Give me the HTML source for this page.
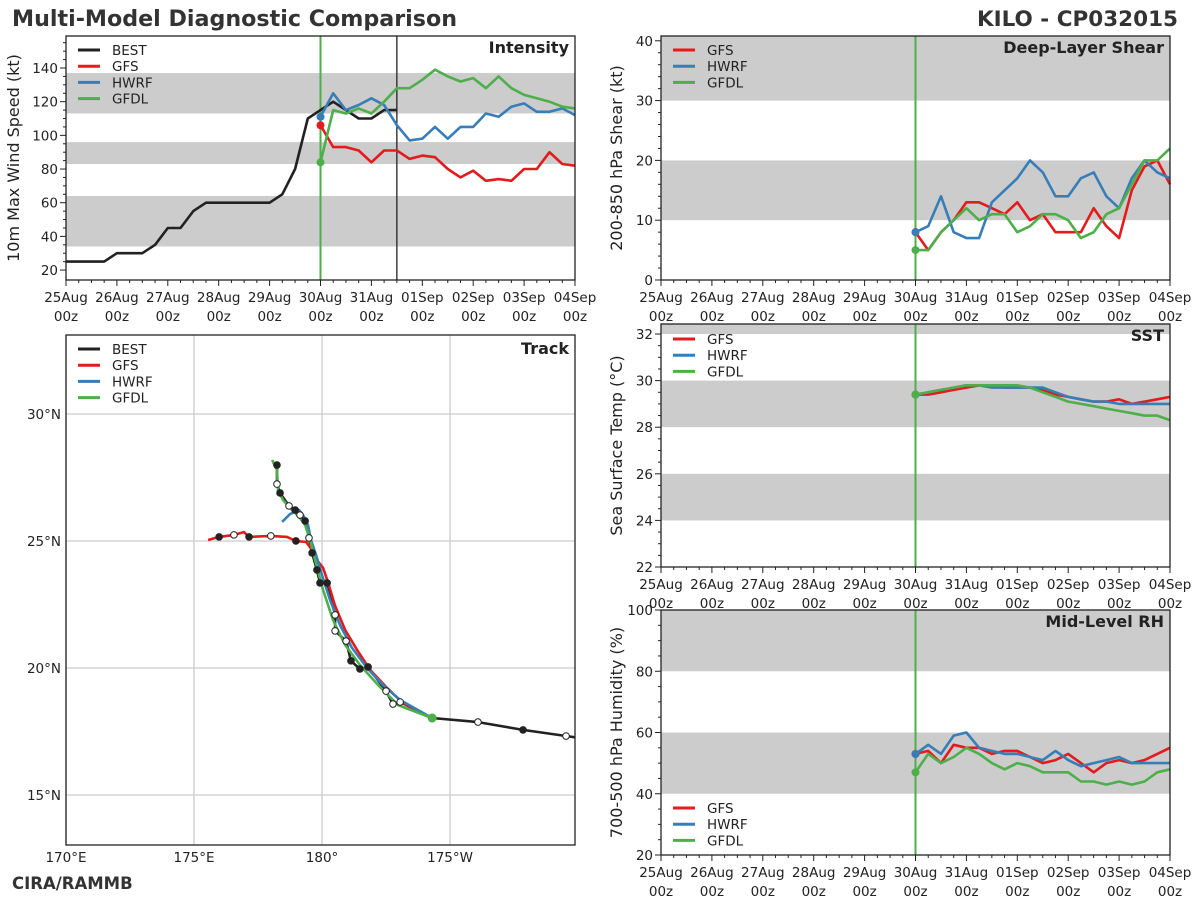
<!DOCTYPE html>
<html><head><meta charset="utf-8"><style>
body{margin:0;background:#fff;}
svg{display:block;font-family:"DejaVu Sans","Liberation Sans",sans-serif;}
</style></head><body>
<svg id="s" width="1200" height="900" viewBox="0 0 1200 900" xmlns="http://www.w3.org/2000/svg">
<text x="12" y="26" font-size="22.2" font-weight="bold" fill="#333">Multi-Model Diagnostic Comparison</text>
<text x="1178" y="26" font-size="21.5" font-weight="bold" fill="#333" text-anchor="end">KILO - CP032015</text>
<text x="12" y="889" font-size="16.5" font-weight="bold" fill="#333">CIRA/RAMMB</text>
</svg>
<script>
// ---------- data ----------
const dayLabels = ["25Aug","26Aug","27Aug","28Aug","29Aug","30Aug","31Aug","01Sep","02Sep","03Sep","04Sep"];
const bestInt = [25,25,25,25,30,30,30,35,45,45,55,60,60,60,60,60,60,65,80,110,115,120,115,110,110,115,115];
const gfsInt = [106,93,93,91,84,91,91,86,88,87,80,75,79,73,74,73,80,80,90,83,82];
const hwrfInt = [111,125,115,118,122,118,106,97,98,105,98,105,105,113,111,117,119,114,114,116,112];
const gfdlInt = [84,115,113,116,113,120,128,128,133,139,135,132,134,128,135,128,124,122,120,117,116];
const gfsShr = [8,5,8,10,13,13,12,11,13,10,11,8,8,8,12,9,7,15,19,20,16];
const hwrfShr = [8,9,14,8,7,7,13,15,17,20,18,14,14,17,18,14,12,17,20,18,17];
const gfdlShr = [5,5,8,10,12,10,11,11,8,9,11,11,10,7,8,11,12,16,20,20,22];
const gfsSst = [29.4,29.4,29.5,29.6,29.7,29.8,29.8,29.7,29.7,29.7,29.6,29.4,29.3,29.2,29.1,29.1,29.2,29.0,29.1,29.2,29.3];
const hwrfSst = [29.4,29.5,29.6,29.7,29.8,29.8,29.7,29.7,29.7,29.7,29.7,29.5,29.3,29.2,29.1,29.1,29.0,29.0,29.0,29.0,29.0];
const gfdlSst = [29.4,29.5,29.6,29.7,29.8,29.8,29.8,29.8,29.8,29.7,29.5,29.3,29.1,29.0,28.9,28.8,28.7,28.6,28.5,28.5,28.3];
const gfsRh = [53,54,50,56,55,55,53,54,54,52,50,51,53,50,47,50,51,50,51,53,55];
const hwrfRh = [53,56,53,59,60,55,54,53,53,52,51,54,51,49,50,51,52,50,50,50,50];
const gfdlRh = [47,53,50,52,55,53,50,48,50,49,47,47,47,44,44,43,44,43,44,47,48];
const bestLon = [178.24,178.24,178.36,178.71,178.95,179.14,179.34,179.49,179.61,179.8,179.92,180.2,180.51,180.51,180.94,181.13,181.48,181.8,182.5,182.77,183.05,184.3,186.09,187.85,189.53,190.1];
const bestLat = [27.99,27.24,26.89,26.38,26.22,26.02,25.79,25.12,24.53,23.86,23.35,23.35,22.09,21.46,21.06,20.28,19.96,20.04,19.09,18.58,18.66,18.03,17.87,17.56,17.32,17.24];
const bestFill = [1,0,1,0,1,0,1,0,1,1,1,1,0,0,0,1,1,1,0,0,0,0,0,1,0,-1];
const gfsLon = [175.55,175.98,176.56,176.95,177.15,178.0,178.63,178.98,179.38,179.53,179.8,180.04,180.23,180.5,180.9,181.37,181.88,182.54,183.16,184.22];
const gfsLat = [25.04,25.16,25.24,25.35,25.16,25.2,25.16,25.0,24.96,24.76,24.25,23.94,23.39,22.48,21.5,20.71,19.92,19.21,18.62,18.07];
const gfsFill = [-1,1,0,-1,1,0,-1,1,-1,-1,-1,-1,-1,-1,-1,-1,-1,-1,-1,-1];
const hwrfLon = [178.44,178.75,179.1,179.26,179.45,179.57,179.77,180.0,180.31,180.7,181.17,181.76,182.38,183.05,184.3];
const hwrfLat = [25.75,26.06,26.22,26.02,25.63,25.04,24.45,23.66,22.68,21.69,20.79,20.0,19.33,18.74,18.03];
const gfdlLon = [178.05,178.24,178.28,178.48,178.83,179.14,179.34,179.53,179.73,180.04,180.43,180.9,181.48,182.19,182.97,184.3];
const gfdlLat = [28.19,27.8,27.0,26.61,26.22,25.9,25.63,25.04,24.25,23.07,21.89,20.91,20.12,19.33,18.54,18.03];

// ---------- helpers ----------
const NS="http://www.w3.org/2000/svg";
const svg=document.getElementById('s');
function mk(tag,attrs,parent){const e=document.createElementNS(NS,tag);for(const k in attrs)e.setAttribute(k,attrs[k]);(parent||svg).appendChild(e);return e;}
const C={BEST:"#222",GFS:"#e41a1c",HWRF:"#377eb8",GFDL:"#4daf4a"};
const FS=13.5;

function timePanel(p){
  const g=mk('g',{});
  
  
  const xs=h=>p.x0+(p.x1-p.x0)*h/240;
  const ys=v=>p.y1-(p.y1-p.y0)*(v-p.vmin)/(p.vmax-p.vmin);
  p.bands.forEach(b=>{
    const r=mk('rect',{x:p.x0,y:ys(Math.min(b[1],p.vmax)),width:p.x1-p.x0,height:ys(b[0])-ys(Math.min(b[1],p.vmax)),fill:'#cccccc'},g);
    
    
  });
  for(let v=p.tmin;v<=p.vmax+1e-6;v+=p.minor){
    const major=Math.abs((v-p.tmin)/p.step-Math.round((v-p.tmin)/p.step))<1e-6;
    if(v<p.vmin-1e-6)continue;
    mk('line',{x1:p.x0-(major?6:3),x2:p.x0,y1:ys(v),y2:ys(v),stroke:'#222','stroke-width':1},g);
    if(major){const t=mk('text',{x:p.x0-8,y:ys(v)+5,'font-size':FS,'text-anchor':'end',fill:'#222'},g);t.textContent=Math.round(v);
      }
  }
  for(let h=0;h<=240;h+=6){
    const major=h%24===0;
    mk('line',{x1:xs(h),x2:xs(h),y1:p.y1,y2:p.y1+(major?6:3),stroke:'#222','stroke-width':1},g);
    if(major){
      const t=mk('text',{x:xs(h),y:p.y1+22,'font-size':FS,'text-anchor':'middle',fill:'#222'},g);t.textContent=dayLabels[h/24];
      
      const t2=mk('text',{x:xs(h),y:p.y1+41,'font-size':FS,'text-anchor':'middle',fill:'#222'},g);t2.textContent='00z';
      
    }
  }
  const cy=(p.y0+p.y1)/2;
  const yt=mk('text',{x:p.tx,y:cy,'font-size':16,'text-anchor':'middle',fill:'#222',transform:`rotate(-90 ${p.tx} ${cy})`},g);
  yt.textContent=p.ylabel;
  
  mk('line',{x1:xs(120),x2:xs(120),y1:p.y0,y2:p.y1,stroke:C.GFDL,'stroke-width':2},g);
  if(p.vline)mk('line',{x1:xs(p.vline),x2:xs(p.vline),y1:p.y0,y2:p.y1,stroke:'#222','stroke-width':1.3},g);
  p.series.forEach(s=>{
    const pts=s.vals.map((v,i)=>xs(s.start+6*i).toFixed(1)+','+ys(v).toFixed(1)).join(' ');
    const l=mk('polyline',{points:pts,fill:'none',stroke:C[s.key],'stroke-width':2.6,'stroke-linejoin':'round'},g);
    
    
    if(s.start===120){const d=mk('circle',{cx:xs(120),cy:ys(s.vals[0]),r:4,fill:C[s.key]},g);
      }
  });
  mk('rect',{x:p.x0,y:p.y0,width:p.x1-p.x0,height:p.y1-p.y0,fill:'none',stroke:'#222','stroke-width':1.3},g);
  const ttl=mk('text',{x:p.x1-6,y:p.y0+17,'font-size':16,'font-weight':'bold','text-anchor':'end',fill:'#222'},g);
  ttl.textContent=p.title;
  
  legend(g,p.x0+12,p.legY,p.legKeys);
}
function legend(g,x,y,keys){
  keys.forEach((k,i)=>{
    const yy=y+i*16.2;
    const e=mk('g',{},g);
    
    
    mk('line',{x1:x,x2:x+22,y1:yy,y2:yy,stroke:C[k],'stroke-width':3},e);
    const t=mk('text',{x:x+34,y:yy+5,'font-size':FS,fill:'#222'},e);t.textContent=k;
  });
}
timePanel({name:'intensity-panel',x0:66,x1:575,y0:36,y1:280,vmin:14.1,vmax:159,tmin:20,step:20,minor:5,
  bands:[[34,64],[83,96],[113,137]],ylabel:'10m Max Wind Speed (kt)',tx:19,title:'Intensity',vline:156,
  legY:50,legKeys:['BEST','GFS','HWRF','GFDL'],
  series:[{key:'BEST',vals:bestInt,start:0},{key:'GFS',vals:gfsInt,start:120},{key:'HWRF',vals:hwrfInt,start:120},{key:'GFDL',vals:gfdlInt,start:120}]});
timePanel({name:'shear-panel',x0:661,x1:1170,y0:36,y1:280,vmin:0,vmax:40.8,tmin:0,step:10,minor:2,
  bands:[[10,20],[30,41]],ylabel:'200-850 hPa Shear (kt)',tx:622,title:'Deep-Layer Shear',
  legY:50,legKeys:['GFS','HWRF','GFDL'],
  series:[{key:'GFS',vals:gfsShr,start:120},{key:'HWRF',vals:hwrfShr,start:120},{key:'GFDL',vals:gfdlShr,start:120}]});
timePanel({name:'sst-panel',x0:661,x1:1170,y0:324,y1:567,vmin:22,vmax:32.43,tmin:22,step:2,minor:0.5,
  bands:[[24,26],[28,30],[32,33]],ylabel:'Sea Surface Temp (°C)',tx:622,title:'SST',
  legY:339,legKeys:['GFS','HWRF','GFDL'],
  series:[{key:'GFS',vals:gfsSst,start:120},{key:'HWRF',vals:hwrfSst,start:120},{key:'GFDL',vals:gfdlSst,start:120}]});
timePanel({name:'rh-panel',x0:661,x1:1170,y0:610,y1:855,vmin:20,vmax:100,tmin:20,step:20,minor:5,
  bands:[[40,60],[80,100]],ylabel:'700-500 hPa Humidity (%)',tx:622,title:'Mid-Level RH',
  legY:808,legKeys:['GFS','HWRF','GFDL'],
  series:[{key:'GFS',vals:gfsRh,start:120},{key:'HWRF',vals:hwrfRh,start:120},{key:'GFDL',vals:gfdlRh,start:120}]});

// ---------- track ----------
(function(){
  const T={x0:66,x1:575,y0:335,y1:845,lon0:170,lon1:189.88,lat0:13.03,lat1:33.11};
  const g=mk('g',{});
  
  
  const xs=l=>T.x0+(T.x1-T.x0)*(l-T.lon0)/(T.lon1-T.lon0);
  const ys=l=>T.y1-(T.y1-T.y0)*(l-T.lat0)/(T.lat1-T.lat0);
  const clip=mk('clipPath',{id:'tc'},g);mk('rect',{x:T.x0,y:T.y0,width:T.x1-T.x0,height:T.y1-T.y0},clip);
  const lonT=[170,175,180,185],lonL=['170°E','175°E','180°','175°W'];
  lonT.forEach((l,i)=>{
    mk('line',{x1:xs(l),x2:xs(l),y1:T.y0,y2:T.y1,stroke:'#cccccc','stroke-width':1.3},g);
    const t=mk('text',{x:xs(l),y:T.y1+17,'font-size':FS,'text-anchor':'middle',fill:'#222'},g);t.textContent=lonL[i];
    
  });
  [15,20,25,30].forEach(l=>{
    mk('line',{x1:T.x0,x2:T.x1,y1:ys(l),y2:ys(l),stroke:'#cccccc','stroke-width':1.3},g);
    const t=mk('text',{x:T.x0-5,y:ys(l)+5,'font-size':FS,'text-anchor':'end',fill:'#222'},g);t.textContent=l+'°N';
    
  });
  const pg=mk('g',{'clip-path':'url(#tc)'},g);
  function track(key,lon,lat){
    const pts=lon.map((l,i)=>xs(l).toFixed(1)+','+ys(lat[i]).toFixed(1)).join(' ');
    const e=mk('polyline',{points:pts,fill:'none',stroke:C[key],'stroke-width':2.6,'stroke-linejoin':'round'},pg);
    
    
  }
  function markers(lon,lat,fill){
    lon.forEach((l,i)=>{if(fill[i]<0)return;
      const c=mk('circle',{cx:xs(l),cy:ys(lat[i]),r:3.3,fill:fill[i]?'#222':'#fff',stroke:'#222','stroke-width':1},pg);
      });
  }
  track('BEST',bestLon,bestLat);
  track('GFS',gfsLon,gfsLat);
  track('HWRF',hwrfLon,hwrfLat);
  track('GFDL',gfdlLon,gfdlLat);
  markers(bestLon,bestLat,bestFill);
  markers(gfsLon,gfsLat,gfsFill);
  const d=mk('circle',{cx:xs(gfdlLon[gfdlLon.length-1]),cy:ys(gfdlLat[gfdlLat.length-1]),r:4.5,fill:C.GFDL},pg);
  
  mk('rect',{x:T.x0,y:T.y0,width:T.x1-T.x0,height:T.y1-T.y0,fill:'none',stroke:'#222','stroke-width':1.3},g);
  const ttl=mk('text',{x:T.x1-6,y:T.y0+19,'font-size':16,'font-weight':'bold','text-anchor':'end',fill:'#222'},g);
  ttl.textContent='Track';
  legend(g,78,349,['BEST','GFS','HWRF','GFDL']);
})();
</script>
</body></html>
